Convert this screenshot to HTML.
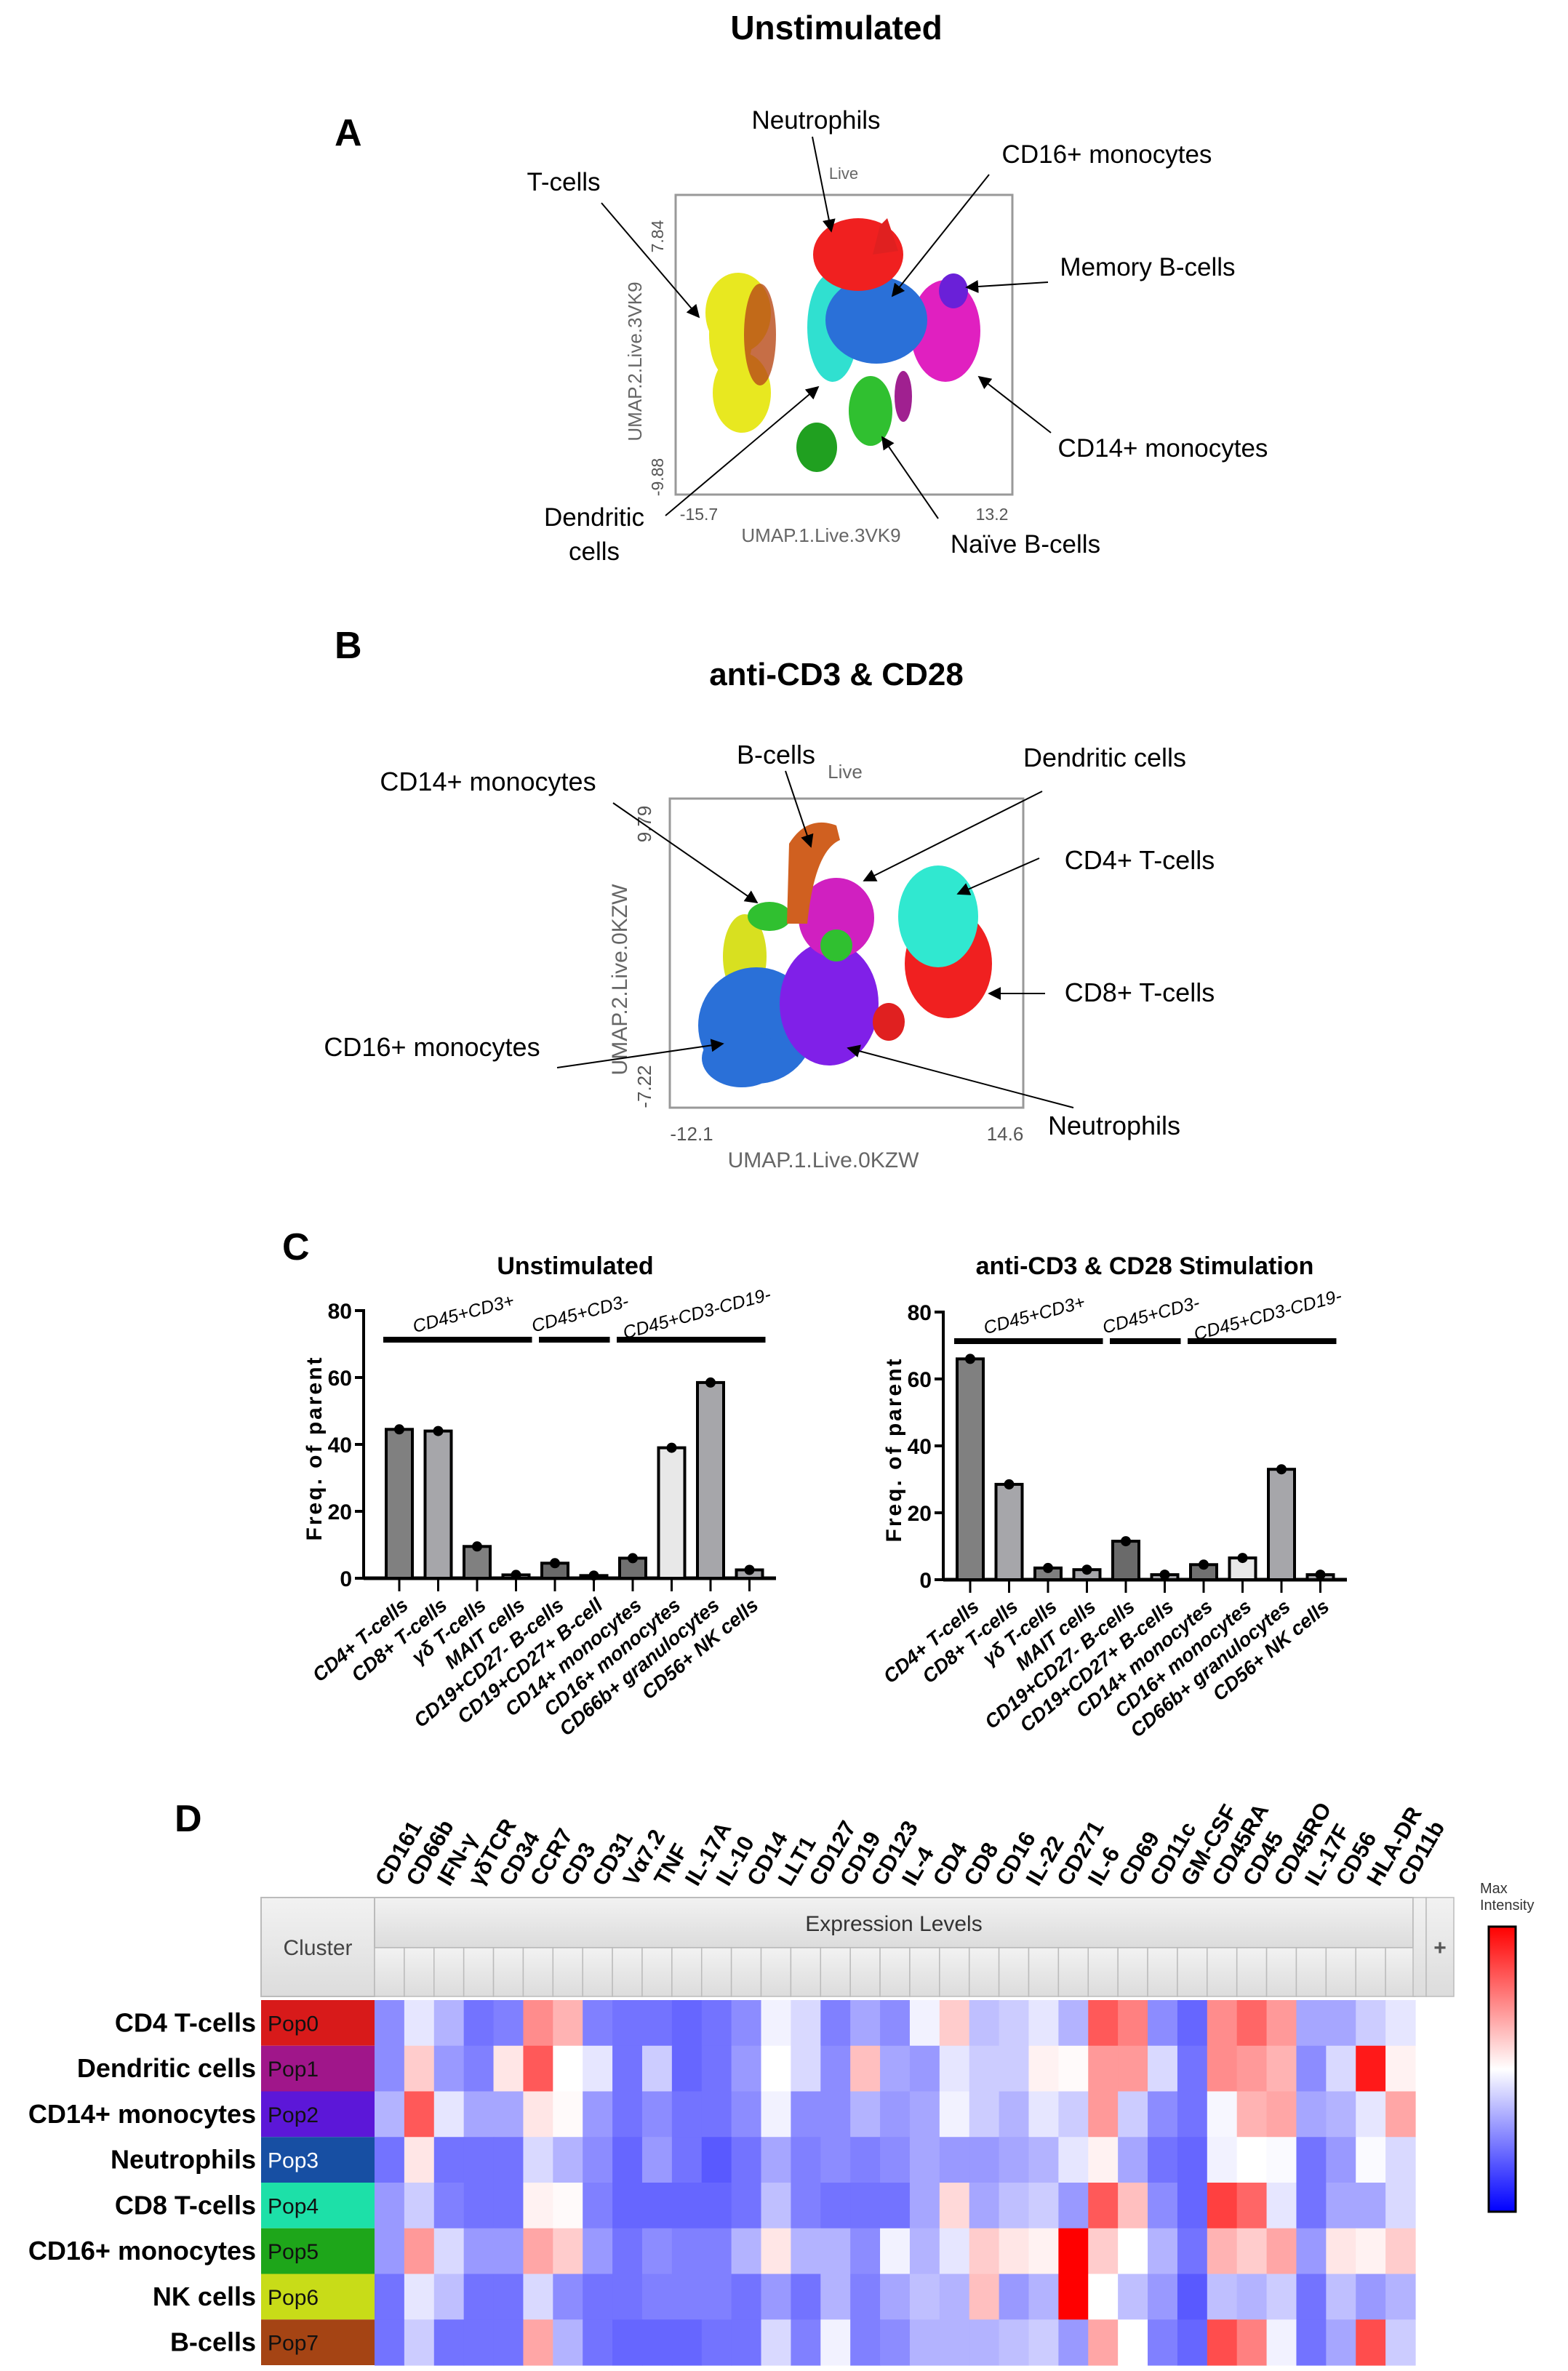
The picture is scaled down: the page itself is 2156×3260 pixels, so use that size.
<!DOCTYPE html>
<html><head><meta charset="utf-8"><style>
html,body{margin:0;padding:0;background:#fff}
svg{display:block}
text{font-family:"Liberation Sans",sans-serif}
</style></head><body>
<svg id="fig" width="2156" height="3260" viewBox="0 0 2156 3260" xmlns="http://www.w3.org/2000/svg">
<defs>
<linearGradient id="cbar" x1="0" y1="0" x2="0" y2="1"><stop offset="0" stop-color="#ff0000"/><stop offset="0.5" stop-color="#ffffff"/><stop offset="1" stop-color="#0000ff"/></linearGradient>
<linearGradient id="hdr" x1="0" y1="0" x2="0" y2="1"><stop offset="0" stop-color="#f2f2f2"/><stop offset="1" stop-color="#dcdcdc"/></linearGradient>
<marker id="arr" viewBox="0 0 10 10" refX="9" refY="5" markerWidth="9" markerHeight="9" orient="auto"><path d="M0,0 L10,5 L0,10 z" fill="#000"/></marker>
</defs>

<text x="1150" y="54" font-size="46" font-weight="bold" text-anchor="middle">Unstimulated</text>
<text x="460" y="200" font-size="52" font-weight="bold">A</text>

<g>
<rect x="929" y="268" width="463" height="412" fill="#fff" stroke="#999" stroke-width="3"/>
<text x="1160" y="246" font-size="22" fill="#666" text-anchor="middle">Live</text>
<g>
<ellipse cx="1015" cy="430" rx="45" ry="55" fill="#e8e820"/>
<ellipse cx="1020" cy="540" rx="40" ry="55" fill="#e8e820"/>
<ellipse cx="1005" cy="460" rx="30" ry="60" fill="#e8e820"/>
<ellipse cx="1045" cy="460" rx="22" ry="70" fill="#b84a18" opacity="0.8"/>
<ellipse cx="1145" cy="450" rx="35" ry="75" fill="#30e0d0"/>
<ellipse cx="1300" cy="455" rx="48" ry="70" fill="#e020c0"/>
<ellipse cx="1311" cy="400" rx="20" ry="24" fill="#6a20d8"/>
<ellipse cx="1205" cy="440" rx="70" ry="60" fill="#2a70d8"/>
<ellipse cx="1180" cy="350" rx="62" ry="50" fill="#f02020"/>
<path d="M1210,310 L1220,300 L1235,345 L1200,350 z" fill="#e02020"/>
<ellipse cx="1197" cy="565" rx="30" ry="48" fill="#30c030"/>
<ellipse cx="1123" cy="615" rx="28" ry="34" fill="#20a020"/>
<ellipse cx="1242" cy="545" rx="12" ry="35" fill="#a02090"/>
</g>
<text x="0" y="0" font-size="23" fill="#555" transform="translate(912,325) rotate(-90)" text-anchor="middle">7.84</text>
<text x="0" y="0" font-size="23" fill="#555" transform="translate(912,656) rotate(-90)" text-anchor="middle">-9.88</text>
<text x="0" y="0" font-size="26" fill="#666" transform="translate(882,497) rotate(-90)" text-anchor="middle">UMAP.2.Live.3VK9</text>
<text x="961" y="715" font-size="23" fill="#555" text-anchor="middle">-15.7</text>
<text x="1364" y="715" font-size="23" fill="#555" text-anchor="middle">13.2</text>
<text x="1129" y="745" font-size="26" fill="#666" text-anchor="middle">UMAP.1.Live.3VK9</text>
<g font-size="35">
<text x="1122" y="177" text-anchor="middle">Neutrophils</text>
<text x="1522" y="224" text-anchor="middle">CD16+ monocytes</text>
<text x="775" y="262" text-anchor="middle">T-cells</text>
<text x="1578" y="379" text-anchor="middle">Memory B-cells</text>
<text x="1599" y="628" text-anchor="middle">CD14+ monocytes</text>
<text x="1410" y="760" text-anchor="middle">Naïve B-cells</text>
<text x="817" y="723" text-anchor="middle">Dendritic</text>
<text x="817" y="770" text-anchor="middle">cells</text>
</g>
<g stroke="#000" stroke-width="2" marker-end="url(#arr)">
<line x1="1117" y1="188" x2="1143" y2="318"/>
<line x1="1360" y1="240" x2="1227" y2="407"/>
<line x1="827" y1="279" x2="961" y2="436"/>
<line x1="1441" y1="388" x2="1329" y2="395"/>
<line x1="1445" y1="595" x2="1346" y2="518"/>
<line x1="1290" y1="713" x2="1213" y2="601"/>
<line x1="915" y1="709" x2="1125" y2="532"/>
</g>
</g>

<text x="460" y="905" font-size="52" font-weight="bold">B</text>
<text x="1150" y="942" font-size="44" font-weight="bold" text-anchor="middle">anti-CD3 &amp; CD28</text>

<g>
<rect x="921" y="1098" width="486" height="425" fill="#fff" stroke="#999" stroke-width="3"/>
<text x="1162" y="1070" font-size="26" fill="#666" text-anchor="middle">Live</text>
<g>
<ellipse cx="1024" cy="1315" rx="30" ry="58" fill="#d8e020"/>
<ellipse cx="1040" cy="1410" rx="80" ry="80" fill="#2a70d8"/>
<ellipse cx="1020" cy="1455" rx="55" ry="40" fill="#2a70d8"/>
<ellipse cx="1140" cy="1380" rx="68" ry="85" fill="#8020e8"/>
<ellipse cx="1150" cy="1262" rx="52" ry="55" fill="#d020c0"/>
<ellipse cx="1058" cy="1260" rx="30" ry="20" fill="#30c030"/>
<ellipse cx="1150" cy="1300" rx="22" ry="22" fill="#30c030"/>
<path d="M1082,1270 L1085,1160 Q1110,1120 1150,1135 L1155,1155 Q1120,1170 1110,1270 z" fill="#d06020"/>
<ellipse cx="1304" cy="1325" rx="60" ry="75" fill="#f02020"/>
<ellipse cx="1290" cy="1260" rx="55" ry="70" fill="#30e8d0"/>
<ellipse cx="1222" cy="1405" rx="22" ry="26" fill="#e02020"/>
</g>
<text x="0" y="0" font-size="26" fill="#555" transform="translate(895,1133) rotate(-90)" text-anchor="middle">9.79</text>
<text x="0" y="0" font-size="26" fill="#555" transform="translate(895,1494) rotate(-90)" text-anchor="middle">-7.22</text>
<text x="0" y="0" font-size="30" fill="#666" transform="translate(862,1347) rotate(-90)" text-anchor="middle">UMAP.2.Live.0KZW</text>
<text x="951" y="1568" font-size="26" fill="#555" text-anchor="middle">-12.1</text>
<text x="1382" y="1568" font-size="26" fill="#555" text-anchor="middle">14.6</text>
<text x="1132" y="1605" font-size="30" fill="#666" text-anchor="middle">UMAP.1.Live.0KZW</text>
<g font-size="36">
<text x="1067" y="1050" text-anchor="middle">B-cells</text>
<text x="1519" y="1054" text-anchor="middle">Dendritic cells</text>
<text x="671" y="1087" text-anchor="middle">CD14+ monocytes</text>
<text x="1567" y="1195" text-anchor="middle">CD4+ T-cells</text>
<text x="1567" y="1377" text-anchor="middle">CD8+ T-cells</text>
<text x="594" y="1452" text-anchor="middle">CD16+ monocytes</text>
<text x="1532" y="1560" text-anchor="middle">Neutrophils</text>
</g>
<g stroke="#000" stroke-width="2" marker-end="url(#arr)">
<line x1="1080" y1="1060" x2="1115" y2="1164"/>
<line x1="1433" y1="1088" x2="1188" y2="1211"/>
<line x1="843" y1="1104" x2="1041" y2="1241"/>
<line x1="1429" y1="1180" x2="1317" y2="1229"/>
<line x1="1437" y1="1366" x2="1360" y2="1366"/>
<line x1="766" y1="1468" x2="994" y2="1435"/>
<line x1="1476" y1="1523" x2="1166" y2="1441"/>
</g>
</g>

<text x="388" y="1732" font-size="52" font-weight="bold">C</text>
<g id="barcharts"></g>

<text x="240" y="2518" font-size="52" font-weight="bold">D</text>
<g id="heatmap"></g>
</svg>

<script>
const NS = "http://www.w3.org/2000/svg";
const cellTypes = ["CD4+ T-cells","CD8+ T-cells","γδ T-cells","MAIT cells","CD19+CD27- B-cells","CD19+CD27+ B-cell","CD14+ monocytes","CD16+ monocytes","CD66b+ granulocytes","CD56+ NK cells"];
const cellTypesRight = ["CD4+ T-cells","CD8+ T-cells","γδ T-cells","MAIT cells","CD19+CD27- B-cells","CD19+CD27+ B-cells","CD14+ monocytes","CD16+ monocytes","CD66b+ granulocytes","CD56+ NK cells"];
const unstimValues = [44.5, 44, 9.5, 1, 4.5, 0.8, 6, 39, 58.5, 2.5];
const stimValues = [66, 28.5, 3.5, 3, 11.5, 1.5, 4.5, 6.5, 33, 1.5];
const yTicks = [0, 20, 40, 60, 80];
const groupLabels = ["CD45+CD3+", "CD45+CD3-", "CD45+CD3-CD19-"];
const groupSpans = [[0,3],[4,5],[6,9]];
const barFills = ["#808080","#a6a6aa","#808080","#a6a6aa","#6a6a6a","#a6a6aa","#707070","#e8e8e8","#a6a6aa","#a6a6aa"];

function mk(tag, attrs, parent){const e=document.createElementNS(NS,tag);for(const k in attrs)e.setAttribute(k,attrs[k]);parent.appendChild(e);return e;}

function drawBar(g, opt){
  const y = v => opt.y0 - (v/80)*(opt.y0-opt.y80);
  const x = i => opt.x0 + i*opt.step;
  const t = mk("text",{x:opt.titleX,y:1752,"font-size":34,"font-weight":"bold","text-anchor":"middle"},g);
  t.textContent = opt.title;
  
  
  const ax = mk("line",{x1:opt.ax,y1:opt.y80-2,x2:opt.ax,y2:opt.y0,stroke:"#000","stroke-width":4},g);
  
  
  const xa = mk("line",{x1:opt.ax,y1:opt.y0,x2:opt.axEnd,y2:opt.y0,stroke:"#000","stroke-width":5},g);
  
  
  yTicks.forEach(v=>{
    mk("line",{x1:opt.ax-12,y1:y(v),x2:opt.ax,y2:y(v),stroke:"#000","stroke-width":4},g);
    const tl = mk("text",{x:opt.ax-16,y:y(v)+11,"font-size":30,"font-weight":"bold","text-anchor":"end"},g);
    tl.textContent = v;
    
    
  });
  const yt = mk("text",{x:0,y:0,"font-size":30,"font-weight":"bold","text-anchor":"middle","letter-spacing":"3",transform:`translate(${opt.ax-58},${(opt.y0+opt.y80)/2+5}) rotate(-90)`},g);
  yt.textContent = "Freq. of parent";
  
  
  opt.values.forEach((v,i)=>{
    const b = mk("rect",{x:x(i)-18,y:y(v),width:36,height:opt.y0-y(v),fill:barFills[i],stroke:"#000","stroke-width":4},g);
    
    
    const d = mk("circle",{cx:x(i),cy:y(v),r:7,fill:"#000"},g);
    
    
    mk("line",{x1:x(i),y1:opt.y0,x2:x(i),y2:opt.y0+18,stroke:"#000","stroke-width":3},g);
    const lb = mk("text",{x:0,y:0,"font-size":27,"font-weight":"bold","font-style":"italic","text-anchor":"end",transform:`translate(${x(i)+14},${opt.y0+40}) rotate(-40)`},g);
    lb.textContent = opt.labels[i];
    
    
  });
  groupSpans.forEach((s,k)=>{
    const x1 = x(s[0])-22, x2 = x(s[1])+22;
    const gl = mk("line",{x1:x1,y1:opt.y80+40,x2:x2,y2:opt.y80+40,stroke:"#000","stroke-width":8},g);
    
    
    const gt = mk("text",{x:0,y:0,"font-size":25,"font-style":"italic","text-anchor":"middle",transform:`translate(${(x1+x2)/2+10},${opt.y80+12}) rotate(-15)`},g);
    gt.textContent = groupLabels[k];
    
    
  });
}
const bc = document.getElementById("barcharts");
drawBar(bc,{key:"unstim",title:"Unstimulated",titleX:791,ax:500,axEnd:1067,x0:549,step:53.5,y0:2170,y80:1802,values:unstimValues,labels:cellTypes});
drawBar(bc,{key:"stim",title:"anti-CD3 & CD28 Stimulation",titleX:1574,ax:1297,axEnd:1852,x0:1334,step:53.5,y0:2172,y80:1804,values:stimValues,labels:cellTypesRight});

const markers = ["CD161","CD66b","IFN-γ","γδTCR","CD34","CCR7","CD3","CD31","Vα7.2","TNF","IL-17A","IL-10","CD14","LLT1","CD127","CD19","CD123","IL-4","CD4","CD8","CD16","IL-22","CD271","IL-6","CD69","CD11c","GM-CSF","CD45RA","CD45","CD45RO","IL-17F","CD56","HLA-DR","CD11b"];
const clusterNames = ["CD4 T-cells","Dendritic cells","CD14+ monocytes","Neutrophils","CD8 T-cells","CD16+ monocytes","NK cells","B-cells"];
const popLabels = ["Pop0","Pop1","Pop2","Pop3","Pop4","Pop5","Pop6","Pop7"];
const popColors = ["#d81a1a","#a0168a","#5c17d8","#174fa3","#1de0a8","#1ea61a","#c8dc18","#a54414"];
const row0 = [-0.45,-0.1,-0.3,-0.55,-0.5,0.45,0.3,-0.5,-0.55,-0.55,-0.6,-0.55,-0.45,-0.05,-0.15,-0.5,-0.35,-0.45,-0.05,0.2,-0.25,-0.2,-0.1,-0.3,0.65,0.5,-0.45,-0.6,0.45,0.6,0.4,-0.35,-0.35,-0.2,-0.1];
const row1 = [-0.45,0.2,-0.4,-0.5,0.1,0.65,0.0,-0.1,-0.55,-0.2,-0.6,-0.55,-0.4,0.0,-0.15,-0.45,0.25,-0.35,-0.4,-0.1,-0.2,-0.2,0.05,0.02,0.4,0.4,-0.15,-0.55,0.45,0.4,0.3,-0.45,-0.15,0.9,0.05];
const row2 = [-0.3,0.65,-0.1,-0.35,-0.35,0.1,0.02,-0.4,-0.55,-0.45,-0.55,-0.55,-0.45,-0.05,-0.45,-0.45,-0.3,-0.4,-0.35,-0.05,-0.2,-0.3,-0.1,-0.2,0.4,-0.2,-0.45,-0.55,-0.03,0.3,0.35,-0.35,-0.3,-0.1,0.35];
const row3 = [-0.55,0.1,-0.55,-0.55,-0.55,-0.15,-0.3,-0.45,-0.6,-0.4,-0.55,-0.65,-0.55,-0.35,-0.5,-0.45,-0.5,-0.45,-0.35,-0.4,-0.4,-0.35,-0.3,-0.1,0.05,-0.35,-0.55,-0.6,-0.05,0.0,-0.02,-0.55,-0.4,-0.02,-0.15];
const row4 = [-0.4,-0.2,-0.5,-0.55,-0.55,0.05,0.02,-0.5,-0.6,-0.6,-0.6,-0.6,-0.55,-0.25,-0.5,-0.55,-0.55,-0.55,-0.35,0.15,-0.35,-0.25,-0.2,-0.4,0.65,0.25,-0.45,-0.6,0.75,0.6,-0.1,-0.55,-0.35,-0.35,-0.15];
const row5 = [-0.4,0.4,-0.15,-0.4,-0.4,0.35,0.2,-0.4,-0.55,-0.45,-0.5,-0.5,-0.3,0.1,-0.3,-0.3,-0.45,-0.05,-0.3,-0.1,0.2,0.1,0.05,1.0,0.2,0.0,-0.3,-0.55,0.3,0.2,0.35,-0.4,0.1,0.05,0.2];
const row6 = [-0.55,-0.1,-0.25,-0.55,-0.55,-0.15,-0.45,-0.55,-0.55,-0.5,-0.5,-0.5,-0.55,-0.4,-0.55,-0.3,-0.5,-0.35,-0.25,-0.3,0.25,-0.4,-0.3,1.0,0.0,-0.25,-0.4,-0.65,-0.25,-0.3,-0.2,-0.55,-0.25,-0.4,-0.3];
const row7 = [-0.55,-0.2,-0.55,-0.55,-0.55,0.35,-0.3,-0.55,-0.6,-0.6,-0.6,-0.55,-0.55,-0.15,-0.5,-0.05,-0.5,-0.45,-0.3,-0.3,-0.3,-0.25,-0.2,-0.4,0.35,0.0,-0.5,-0.6,0.7,0.5,-0.05,-0.55,-0.35,0.7,-0.2];
const heatRows = [row0,row1,row2,row3,row4,row5,row6,row7];

function heatColor(v){
  v = Math.max(-1, Math.min(1, v));
  if(v<0){const c=Math.round(255*(1+v));return `rgb(${c},${c},255)`;}
  const c=Math.round(255*(1-v));return `rgb(255,${c},${c})`;
}
const hm = document.getElementById("heatmap");
const HX0=515, HX1=1946, HY0=2750, HY1=3252;
const nCols = heatRows[0].length;
const cw = (HX1-HX0)/nCols, rh = (HY1-HY0)/heatRows.length;
const colX = j => HX0 + j*cw;
const rowY = i => HY0 + i*rh;

let e = mk("rect",{x:359,y:2609,width:156,height:136,fill:"url(#hdr)",stroke:"#bbb","stroke-width":2},hm);
 
e = mk("text",{x:437,y:2688,"font-size":30,fill:"#444","text-anchor":"middle"},hm); e.textContent="Cluster";
 
e = mk("rect",{x:515,y:2609,width:1428,height:69,fill:"url(#hdr)",stroke:"#bbb","stroke-width":2},hm);
 
e = mk("text",{x:1229,y:2655,"font-size":30,fill:"#333","text-anchor":"middle"},hm); e.textContent="Expression Levels";
 
for(let j=0;j<nCols;j++){
  const s = mk("rect",{x:colX(j),y:2678,width:cw,height:67,fill:"url(#hdr)",stroke:"#bbb","stroke-width":1.5},hm);
  
  
}
e = mk("rect",{x:1943,y:2609,width:18,height:136,fill:"url(#hdr)",stroke:"#bbb","stroke-width":1.5},hm);
 
e = mk("rect",{x:1961,y:2609,width:38,height:136,fill:"url(#hdr)",stroke:"#bbb","stroke-width":1.5},hm);
 
e = mk("text",{x:1980,y:2688,"font-size":30,"font-weight":"bold",fill:"#555","text-anchor":"middle"},hm); e.textContent="+";
 

const lblStep = (1949-543)/(markers.length-1);
markers.forEach((m,j)=>{
  const t = mk("text",{x:0,y:0,"font-size":31,"font-weight":"bold",transform:`translate(${543+j*lblStep-10},${2595}) rotate(-60)`},hm);
  t.textContent = m;
  
  
});

heatRows.forEach((row,i)=>{
  const lbl = mk("text",{x:352,y:rowY(i)+rh/2+12,"font-size":36,"font-weight":"bold","text-anchor":"end"},hm);
  lbl.textContent = clusterNames[i];
  
  
  const pc = mk("rect",{x:359,y:rowY(i),width:156,height:rh,fill:popColors[i]},hm);
  
  
  const pt = mk("text",{x:368,y:rowY(i)+rh/2+11,"font-size":30,fill:(i===3?"#fff":"#111")},hm);
  pt.textContent = popLabels[i];
  
  
  row.forEach((v,j)=>{
    const c = mk("rect",{x:colX(j),y:rowY(i),width:cw+0.6,height:rh+0.6,fill:heatColor(v)},hm);
    
    
  });
});

e = mk("text",{x:2035,y:2603,"font-size":20,fill:"#333"},hm); e.textContent="Max";
 
e = mk("text",{x:2035,y:2626,"font-size":20,fill:"#333"},hm); e.textContent="Intensity";
 
e = mk("rect",{x:2047,y:2649,width:37,height:392,fill:"url(#cbar)",stroke:"#000","stroke-width":3},hm);
 
</script>
</body></html>
